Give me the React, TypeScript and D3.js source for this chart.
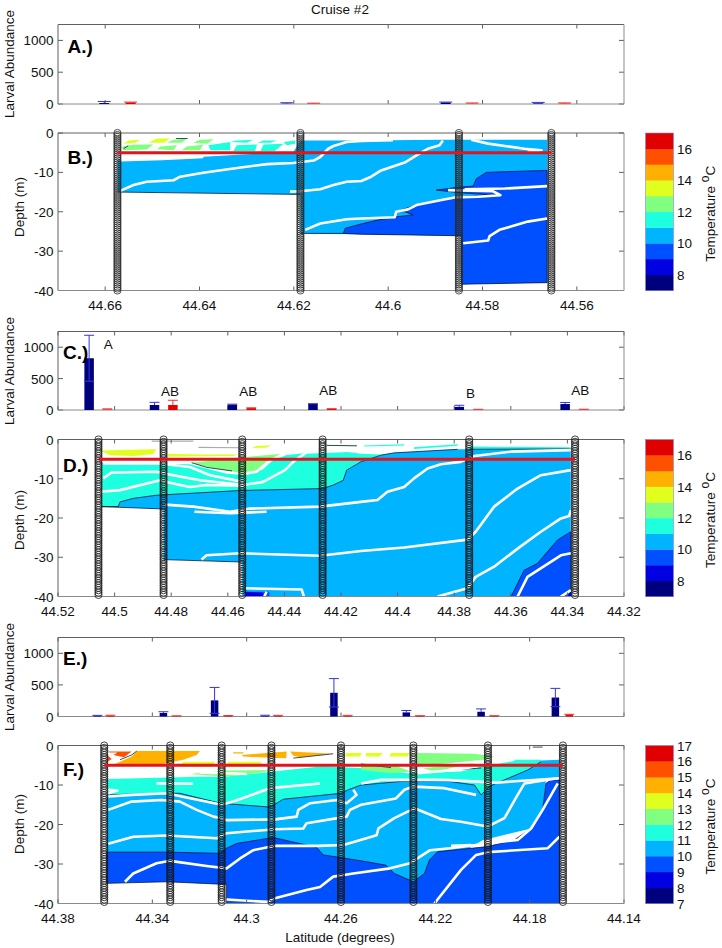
import React from "react";
import * as d3 from "d3";

type P = [number, number];
type Fill = { color: string; pts: P[]; edge?: boolean };

const NAVY = "#00007f", BLUE8 = "#0000e0", BLUE9 = "#0050ff", LIGHT = "#00b4ff", CYAN = "#1effe0",
  GREEN = "#80ff80", YELLOW = "#e0ff1e", ORANGE = "#ffb000", RORANGE = "#ff5000", RED = "#e00000";
const levelColors = [NAVY, BLUE8, BLUE9, LIGHT, CYAN, GREEN, YELLOW, ORANGE, RORANGE, RED];

// ---- abundance bars: [lat, value, errorUp, errorDown, series]
type Bar = [number, number, number, number, 0 | 1];
const barsA: Bar[] = [
  [44.6602, 15, 25, 0, 0], [44.6546, 25, 5, 0, 1], [44.6215, 5, 15, 0, 0], [44.6158, 3, 10, 0, 1],
  [44.5878, 25, 5, 0, 0], [44.5822, 4, 12, 0, 1], [44.5682, 10, 15, 0, 0], [44.5626, 5, 12, 0, 1],
];
const barsC: Bar[] = [
  [44.509, 824, 366, 366, 0], [44.5026, 8, 10, 0, 1], [44.4859, 80, 42, 0, 0], [44.4794, 80, 75, 0, 1],
  [44.4584, 85, 8, 0, 0], [44.4517, 30, 5, 0, 1], [44.4299, 95, 6, 0, 0], [44.4233, 15, 6, 0, 1],
  [44.3782, 50, 25, 0, 0], [44.3715, 5, 6, 0, 1], [44.3408, 95, 25, 0, 0], [44.3342, 6, 6, 0, 1],
];
const barsE: Bar[] = [
  [44.3633, 12, 6, 0, 0], [44.3578, 15, 5, 0, 1], [44.3353, 55, 20, 0, 0], [44.3297, 5, 6, 0, 1],
  [44.3136, 255, 205, 205, 0], [44.3078, 10, 6, 0, 1], [44.2922, 12, 8, 0, 0], [44.2867, 12, 6, 0, 1],
  [44.263, 375, 225, 225, 0], [44.2572, 10, 8, 0, 1], [44.2323, 65, 30, 0, 0], [44.2265, 8, 5, 0, 1],
  [44.2006, 75, 45, 0, 0], [44.195, 8, 5, 0, 1], [44.1691, 300, 145, 145, 0], [44.1632, 30, 5, 0, 1],
];
const lettersC: [string, number, number][] = [
  ["A", 44.5022, 1048], ["AB", 44.4804, 303], ["AB", 44.4528, 303], ["AB", 44.4245, 315], ["B", 44.3742, 277], ["AB", 44.3355, 320],
];

// ---- stations
const stationsB = [44.6574, 44.6186, 44.585, 44.5654];
const stationsD = [44.5057, 44.4827, 44.4549, 44.4265, 44.3747, 44.3373];
const stationsF = [44.3604, 44.3324, 44.3106, 44.2895, 44.26, 44.2293, 44.1977, 44.1659];

// ---- Panel B contours
const fillsB: Fill[] = [
  { color: LIGHT, pts: [[44.6574, -6.8], [44.6392, -6], [44.6201, -4.8], [44.6186, -1.9], [44.6057, -1.9], [44.5884, -1.7], [44.5663, -1.7], [44.5663, -38], [44.5845, -38.4], [44.5845, -26.1], [44.6186, -25.5], [44.6186, -15.6], [44.6574, -15]] },
  { color: BLUE9, edge: true, pts: [[44.6095, -25.5], [44.6091, -24.2], [44.6057, -23.1], [44.6022, -22.1], [44.5983, -21.3], [44.5947, -20.8], [44.5965, -20], [44.5983, -20], [44.5951, -18.7], [44.5887, -17], [44.5852, -16.2], [44.5774, -15.8], [44.5845, -15.2], [44.5898, -14.5], [44.5845, -13.7], [44.582, -13.5], [44.5813, -11.6], [44.5792, -10], [44.5718, -9.7], [44.5663, -9.5], [44.5663, -38], [44.5845, -38.4], [44.5845, -26.1], [44.6057, -25.7]] },
  { color: YELLOW, pts: [[44.6561, -2.7], [44.6551, -1.9], [44.6526, -1.7], [44.6536, -2.5]] },
  { color: YELLOW, pts: [[44.6508, -2.5], [44.649, -1.4], [44.6462, -1.4], [44.6476, -2.5]] },
  { color: GREEN, pts: [[44.6469, -2.5], [44.6455, -1.7], [44.6427, -1.4], [44.6437, -2.5]] },
  { color: GREEN, pts: [[44.6413, -2.5], [44.6399, -1.7], [44.637, -1.6], [44.6384, -2.7]] },
  { color: GREEN, pts: [[44.6561, -4.4], [44.6565, -3.5], [44.654, -3], [44.6498, -2.9], [44.6512, -4.2]] },
  { color: GREEN, pts: [[44.649, -4.1], [44.6483, -3.4], [44.6448, -3.1], [44.6455, -4.4]] },
  { color: GREEN, pts: [[44.6437, -4.4], [44.6427, -3.4], [44.6392, -3], [44.6399, -4.4]] },
  { color: CYAN, pts: [[44.6377, -4.4], [44.6381, -3.1], [44.6335, -2.3], [44.6335, -4.4]] },
  { color: CYAN, pts: [[44.6328, -4.6], [44.6321, -3.1], [44.6278, -2.9], [44.6282, -4.6]] },
  { color: CYAN, pts: [[44.6271, -4.6], [44.6264, -2.9], [44.6222, -2.7], [44.624, -4.6]] },
  { color: CYAN, pts: [[44.6335, -2.3], [44.6321, -1.9], [44.6286, -1.7], [44.63, -2.5]] },
  { color: CYAN, pts: [[44.6278, -2.5], [44.6264, -1.9], [44.6236, -1.9], [44.625, -2.5]] },
  { color: CYAN, pts: [[44.6222, -2.3], [44.6197, -1.9], [44.6197, -2.7], [44.6215, -3.1]] },
];
const whitesB: P[][] = [
  [[44.6568, -6.9], [44.648, -6.6], [44.6392, -6.1]],
  [[44.6568, -14.7], [44.654, -13.2], [44.6512, -12.4], [44.6455, -12], [44.6441, -11.1], [44.6392, -10.1], [44.6328, -9], [44.6257, -7.9], [44.6201, -7.6], [44.6158, -7], [44.6144, -6.1], [44.6127, -4], [44.6116, -3.3], [44.6088, -2.3], [44.6057, -2], [44.599, -1.8]],
  [[44.6208, -14.9], [44.6187, -14.8], [44.6144, -14.3], [44.6116, -13.2], [44.6088, -12.4], [44.6057, -12.2], [44.6036, -11.1], [44.6015, -9.5], [44.5965, -7.5], [44.594, -5.7], [44.5916, -4], [44.5891, -3.1], [44.5884, -1.9]],
  [[44.6176, -24.6], [44.6144, -23], [44.6088, -21.9], [44.6057, -21.7], [44.5986, -21.4], [44.5983, -20], [44.5958, -19.4], [44.594, -18.3], [44.5887, -17], [44.5859, -16.4], [44.581, -16.2], [44.5762, -15.8], [44.5778, -14.8], [44.5873, -14.5]],
  [[44.5838, -14.3], [44.5753, -14.1], [44.5663, -13.5]],
  [[44.5841, -28], [44.5788, -27.3], [44.5785, -26.2], [44.5764, -24.6], [44.5704, -22.5], [44.5663, -21.7]],
  [[44.5824, -1.7], [44.5788, -2.7], [44.5711, -4], [44.5675, -4.4], [44.5704, -4.8]],
];
const blacksB: P[][] = [
  [[44.6574, -15], [44.6186, -15.6]],
  [[44.6186, -25.5], [44.6095, -25.5]],
  [[44.645, -1.4], [44.6425, -1.4]],
  [[44.6561, -4], [44.6551, -3.2]],
];

// ---- Panel D contours
const fillsD: Fill[] = [
  { color: LIGHT, pts: [[44.5046, -17], [44.5046, -15], [44.4981, -14], [44.4852, -13], [44.4557, -12], [44.4265, -11.5], [44.413, -5.7], [44.4059, -4], [44.4012, -3.4], [44.3788, -2.5], [44.3747, -2.5], [44.3388, -2.4], [44.3388, -40], [44.4549, -40], [44.4549, -31.2], [44.4827, -30.6], [44.4827, -17.7], [44.5046, -17.1]] },
  { color: CYAN, pts: [[44.5046, -5.9], [44.4734, -6.3], [44.4604, -8.7], [44.4534, -9.1], [44.4475, -7.6], [44.4428, -4.4], [44.4345, -3.1], [44.4227, -2.7], [44.413, -3.6], [44.4059, -3.8], [44.4012, -3.4], [44.4059, -4], [44.413, -5.7], [44.418, -7.8], [44.4192, -10.4], [44.4227, -11.6], [44.4265, -12.5], [44.4557, -13], [44.4852, -14.2], [44.4934, -15], [44.4981, -15.9], [44.4987, -17.1], [44.5046, -17.1]] },
  { color: CYAN, pts: [[44.3747, -1.8], [44.3388, -2], [44.3388, -2.4], [44.3747, -2.5]] },
  { color: CYAN, pts: [[44.4118, -1.5], [44.3977, -1.2], [44.3977, -1.5], [44.4118, -1.8]] },
  { color: CYAN, pts: [[44.3942, -2], [44.3788, -1.2], [44.3788, -1.6], [44.3942, -2.4]] },
  { color: GREEN, pts: [[44.4728, -5.9], [44.4675, -7.1], [44.4557, -8.5], [44.4536, -9.1], [44.4492, -7.6], [44.4451, -5.2], [44.4415, -3.7], [44.45, -4.2], [44.46, -4.9]] },
  { color: GREEN, pts: [[44.4251, -1.4], [44.4144, -1.5], [44.4144, -1.7], [44.4251, -1.6]] },
  { color: YELLOW, pts: [[44.5052, -2.8], [44.4987, -2.7], [44.4852, -2.5], [44.4864, -3.7], [44.4934, -4.2], [44.5016, -4]] },
  { color: YELLOW, pts: [[44.4811, -3.6], [44.47, -3.8], [44.4563, -3.8], [44.458, -4.2], [44.4811, -4.4]] },
  { color: YELLOW, pts: [[44.4498, -1.6], [44.4445, -1.5], [44.4466, -2.1], [44.4515, -2.2]] },
  { color: BLUE9, edge: true, pts: [[44.3599, -40], [44.357, -35.8], [44.3553, -33.3], [44.3506, -31.6], [44.3435, -25.6], [44.3388, -23.5], [44.3388, -40]] },
  { color: BLUE8, pts: [[44.3399, -40], [44.3388, -38.4], [44.3385, -40]] },
  { color: BLUE9, pts: [[44.4539, -38.8], [44.4453, -38.8], [44.4453, -40], [44.4539, -40]] },
  { color: BLUE8, pts: [[44.4539, -38.8], [44.4478, -39], [44.4471, -40], [44.4539, -40]] },
];
const whitesD: P[][] = [
  [[44.504, -9.9], [44.5011, -8.4], [44.4852, -8.2], [44.4793, -9.1], [44.4698, -10.4], [44.4545, -11.6], [44.4475, -10.8], [44.4398, -7.8], [44.4363, -5.3], [44.4322, -3.3], [44.413, -2.7], [44.4, -2.4]],
  [[44.5052, -13.3], [44.4981, -12.9], [44.484, -10.4], [44.4793, -11.2], [44.4734, -12.1], [44.4675, -11.6], [44.4545, -11.8]],
  [[44.504, -6.1], [44.484, -6.1], [44.4734, -7], [44.4663, -9.1], [44.4545, -10.8]],
  [[44.4539, -8.7], [44.4498, -8.2], [44.4451, -5.3], [44.4392, -3.6], [44.4274, -2.7]],
  [[44.4822, -16.6], [44.4722, -17.1], [44.4592, -18.4], [44.4522, -17.6], [44.4274, -17.1], [44.413, -15.9], [44.4071, -15.4], [44.4036, -13.3], [44.3977, -12.1], [44.3942, -9.9], [44.3894, -7.4], [44.3847, -6.3], [44.3777, -5.7], [44.3729, -4.2], [44.36, -3.1], [44.3388, -2.7]],
  [[44.4718, -18.4], [44.4592, -18.8], [44.4463, -18.4]],
  [[44.4693, -30.6], [44.4675, -29.5], [44.4557, -29], [44.4274, -29.6], [44.413, -28.4], [44.3977, -27.5], [44.3753, -25.5], [44.3724, -23.5], [44.3659, -17.1], [44.3576, -12.5], [44.3494, -9.1], [44.3388, -7.8]],
  [[44.3859, -40], [44.3753, -37.9], [44.3724, -35], [44.3659, -32.4], [44.3576, -27.8], [44.3494, -23.5], [44.3423, -20.1], [44.3394, -19.5], [44.3388, -18]],
  [[44.3576, -40], [44.3541, -35], [44.3423, -29.5], [44.3388, -29]],
  [[44.3423, -40], [44.3388, -38.4]],
  [[44.4539, -37.9], [44.4339, -38.2], [44.4331, -40]],
  [[44.4463, -38.8], [44.4471, -40]],
];
const blacksD: P[][] = [
  [[44.5046, -17.1], [44.4987, -17.1], [44.4981, -15.9], [44.4934, -15], [44.4852, -14.2], [44.4557, -13], [44.4265, -12.5], [44.4227, -11.6], [44.4192, -10.4], [44.418, -7.8], [44.413, -5.7], [44.4059, -4], [44.4012, -3.4], [44.3788, -2.5]],
  [[44.3747, -2.5], [44.3388, -2.4]],
  [[44.5046, -17.1], [44.4827, -17.7]],
  [[44.4827, -30.6], [44.4557, -31.2]],
  [[44.4251, -1.5], [44.4144, -1.6]],
  [[44.4728, -5.9], [44.4675, -7.1], [44.4585, -8]],
];
const greysD: P[][] = [[[44.4869, -0.4], [44.4722, -0.4]], [[44.4704, -2], [44.456, -2.1]]];

// ---- Panel F contours
const fillsF: Fill[] = [
  { color: LIGHT, pts: [[44.3594, -12.5], [44.3283, -11.8], [44.2901, -15], [44.2845, -13], [44.26, -11.5], [44.2515, -9.5], [44.2162, -8.5], [44.2, -9], [44.1752, -3.8], [44.1674, -3.6], [44.1674, -9], [44.1731, -9], [44.1745, -16.3], [44.1794, -21], [44.2, -24], [44.2293, -34.5], [44.2515, -30], [44.2689, -27.5], [44.3113, -27.3], [44.3594, -27.3]] },
  { color: CYAN, pts: [[44.3594, -8.5], [44.3198, -7.9], [44.3099, -7.9], [44.2915, -6.8], [44.2689, -5.3], [44.2515, -5.7], [44.2317, -7], [44.2091, -6.6], [44.195, -4.5], [44.1893, -3.6], [44.1752, -3.6], [44.1752, -4.1], [44.1808, -6.2], [44.1943, -9.6], [44.1971, -10.4], [44.2006, -12.5], [44.2034, -10], [44.2162, -8.9], [44.2345, -9.1], [44.2515, -10], [44.2569, -11.2], [44.26, -12.1], [44.2845, -13.6], [44.2901, -15.6], [44.3113, -14.6], [44.3283, -12.1], [44.3382, -12.1], [44.3587, -12.5]] },
  { color: BLUE9, edge: true, pts: [[44.3594, -27], [44.3339, -27], [44.3113, -27.3], [44.3085, -26], [44.3042, -24.8], [44.2887, -23.3], [44.2703, -25.8], [44.2675, -27.7], [44.2515, -29.2], [44.2409, -30.3], [44.2374, -32.4], [44.2293, -34.5], [44.2246, -32.4], [44.2225, -29], [44.219, -26.9], [44.1978, -25.6], [44.1865, -23.9], [44.1794, -21], [44.1745, -16.3], [44.1731, -9.6], [44.1709, -8.7], [44.1674, -8.7], [44.1674, -40], [44.3085, -40], [44.3085, -35.1], [44.3113, -35.1], [44.3339, -34.5], [44.3594, -34.9]] },
  { color: GREEN, pts: [[44.2275, -1.9], [44.2034, -2.1], [44.195, -2.8], [44.2034, -4.5], [44.2204, -6.6], [44.2275, -5.3]] },
  { color: GREEN, pts: [[44.2515, -4.5], [44.236, -5.3], [44.2303, -6.6], [44.2388, -7], [44.2515, -6.2]] },
  { color: GREEN, pts: [[44.324, -7.2], [44.3085, -7.9], [44.2958, -7], [44.2887, -6.2], [44.3085, -6.3]] },
  { color: ORANGE, pts: [[44.3565, -4.9], [44.3488, -2.8], [44.3466, -1.4], [44.3198, -1.4], [44.3212, -2.4], [44.3269, -3.6], [44.3346, -4.5], [44.3353, -5.1]] },
  { color: RORANGE, pts: [[44.3591, -1.5], [44.3488, -1.5], [44.352, -3], [44.3565, -2.4], [44.3548, -1.8], [44.358, -1.8]] },
  { color: RORANGE, pts: [[44.3591, -2.4], [44.3572, -3.4], [44.3591, -4.2]] },
  { color: ORANGE, pts: [[44.3021, -2.4], [44.283, -1.5], [44.2833, -3.2], [44.2943, -3], [44.3014, -2.8]] },
  { color: ORANGE, pts: [[44.3057, -1.7], [44.3014, -1.7], [44.3014, -2], [44.3057, -2]] },
  { color: ORANGE, pts: [[44.2816, -1.5], [44.2633, -2.1], [44.2774, -3], [44.2802, -2.6]] },
  { color: YELLOW, pts: [[44.2576, -1.9], [44.2512, -1.9], [44.2519, -2.8], [44.2583, -2.8]] },
  { color: YELLOW, pts: [[44.2494, -1.9], [44.2423, -1.9], [44.2437, -2.8], [44.2494, -2.8]] },
  { color: YELLOW, pts: [[44.2388, -1.9], [44.231, -1.9], [44.2317, -2.8], [44.2395, -2.8]] },
  { color: YELLOW, pts: [[44.3269, -4.1], [44.3134, -4.1], [44.3148, -5.3], [44.3283, -5.3]] },
  { color: YELLOW, pts: [[44.3078, -4.1], [44.2936, -4.1], [44.295, -5.3], [44.3092, -5.3]] },
];
const whitesF: P[][] = [
  [[44.3587, -16.3], [44.3488, -14.2], [44.336, -13.8], [44.3283, -14.2], [44.3212, -16.3], [44.3141, -18], [44.3106, -18.4], [44.3085, -18.9], [44.288, -18.7], [44.2788, -18], [44.2781, -16.3], [44.2731, -14.6], [44.2618, -13.8], [44.2576, -14.6], [44.2534, -12.5], [44.2548, -11.2]],
  [[44.3587, -12.9], [44.3488, -12.5], [44.3339, -12.1], [44.3276, -12.9], [44.3106, -15], [44.3057, -14.2], [44.2901, -10.8], [44.2689, -9.6]],
  [[44.3587, -24.9], [44.3481, -23.1], [44.3339, -22.8], [44.3127, -23.5], [44.3085, -22.2], [44.288, -21.2], [44.276, -21], [44.2746, -19.7], [44.2576, -18], [44.2562, -16.3], [44.2515, -15], [44.2367, -13.4], [44.2331, -11.2], [44.2293, -10.4], [44.2162, -10.8], [44.2027, -12.5]],
  [[44.3516, -34.5], [44.3481, -32.4], [44.3382, -29.8], [44.3325, -29.2], [44.317, -30.5], [44.3085, -31.1], [44.3028, -28.6], [44.2972, -26.5], [44.288, -25.4], [44.2696, -25.4], [44.259, -25.2], [44.2449, -22.7], [44.2441, -21], [44.2374, -18.4], [44.2289, -15.9], [44.2176, -18.6], [44.2091, -19.3], [44.1978, -20.5], [44.1907, -18.4], [44.1851, -12.5], [44.1822, -9.6], [44.1681, -8.3]],
  [[44.3085, -39], [44.2915, -39.6], [44.288, -38.7], [44.2746, -36.6], [44.2689, -35.8], [44.2633, -33.2], [44.2548, -32.4], [44.2392, -31.1], [44.2307, -29.8], [44.2222, -26.5], [44.2138, -26], [44.1978, -24.8], [44.1851, -23.9], [44.1794, -21], [44.1745, -16.3], [44.1681, -9.6]],
  [[44.2204, -40], [44.2091, -31.5], [44.2027, -27.7], [44.1978, -27], [44.1723, -26], [44.1674, -23.1]],
  [[44.2515, -9.6], [44.243, -8.7], [44.2162, -8.7], [44.1943, -9.4], [44.1674, -8.3]],
  [[44.2303, -5.7], [44.2091, -4.5], [44.195, -3.6]],
  [[44.2275, -7], [44.212, -6.2], [44.1865, -3.6]],
  [[44.3382, -9.6], [44.3228, -9.7]],
  [[44.3587, -11.2], [44.3548, -11.4], [44.3587, -12.1]],
  [[44.32, -6.8], [44.3, -7.2]],
  [[44.2133, -25.4], [44.2048, -25.2]],
];
const blacksF: P[][] = [
  [[44.1752, -4.1], [44.1808, -6.2], [44.1943, -9.6], [44.1971, -10.4], [44.2006, -12.5], [44.2034, -10], [44.2162, -8.9], [44.2345, -9.1], [44.2515, -10], [44.2569, -11.2], [44.26, -12.1], [44.2845, -13.6], [44.2901, -15.6], [44.3113, -14.6], [44.3283, -12.1], [44.3382, -12.1], [44.3587, -12.5]],
  [[44.3537, -3.6], [44.3488, -2.4], [44.3466, -1.4]],
  [[44.2633, -2.1], [44.2802, -3.2]],
  [[44.2176, -6.4], [44.2006, -5.7]],
  [[44.1787, -0.4], [44.1745, -0.4]],
  [[44.2515, -4.7], [44.2388, -5.6]],
];

const yTicksAbund = [0, 500, 1000];
const yTicksDepth = [0, -10, -20, -30, -40];
const xTicksB = [44.66, 44.64, 44.62, 44.6, 44.58, 44.56];
const xTicksD = [44.52, 44.5, 44.48, 44.46, 44.44, 44.42, 44.4, 44.38, 44.36, 44.34, 44.32];
const xTicksF = [44.38, 44.34, 44.3, 44.26, 44.22, 44.18, 44.14];
const cbLabelsSparse = [8, 10, 12, 14, 16];
const cbLabelsFull = [7, 8, 9, 10, 11, 12, 13, 14, 15, 16, 17];
const cbEdges = d3.range(7, 17);

const FONT = "'Liberation Sans', Arial, Helvetica, sans-serif";
const FS = 13.5;
const AX = "#606060";
const X0 = 58, X1 = 624;

function Frame({ x, y, xTicks, yTicks, top, bottom, showX }: any) {
  return (
    <g>
      {xTicks.map((t: number) => (
        <g key={t}>
          <line x1={x(t)} x2={x(t)} y1={top} y2={top + 4} stroke={AX} />
          <line x1={x(t)} x2={x(t)} y1={bottom} y2={bottom - 4} stroke={AX} />
          {showX && (
            <text x={x(t)} y={bottom + 19} textAnchor="middle" fontSize={FS} fontFamily={FONT} fill="#111">{String(+t.toFixed(2))}</text>
          )}
        </g>
      ))}
      {yTicks.map((t: number) => (
        <g key={t}>
          <line x1={X0} x2={X0 + 5} y1={y(t)} y2={y(t)} stroke={AX} />
          <line x1={X1} x2={X1 - 5} y1={y(t)} y2={y(t)} stroke={AX} />
          <text x={53.5} y={y(t) + 5} textAnchor="end" fontSize={FS} fontFamily={FONT} fill="#111">{t}</text>
        </g>
      ))}
      <path d={`M${X0},${bottom}V${top}H${X1}`} fill="none" stroke={AX} strokeWidth={1} />
      <path d={`M${X0},${bottom}H${X1}V${top}`} fill="none" stroke="#8a8a8a" strokeWidth={1} />
    </g>
  );
}

function BarPanel({ domain, xTicks, top, bottom, bars, barW, capW, tag, tagX, tagY, labelY, letters }: any) {
  const x = d3.scaleLinear().domain(domain).range([X0, X1]);
  const y = d3.scaleLinear().domain([0, 1250]).range([bottom, top]);
  return (
    <g>
      <Frame x={x} y={y} xTicks={xTicks} yTicks={yTicksAbund} top={top} bottom={bottom} />
      {bars.map((b: Bar, i: number) => {
        const [lat, v, up, down, s] = b;
        const c = s === 0 ? NAVY : "#e60000";
        const ec = s === 0 ? "#3535d8" : "#f03030";
        return (
          <g key={i}>
            <rect x={x(lat) - barW / 2} y={y(v)} width={barW} height={y(0) - y(v)} fill={c} />
            <line x1={x(lat)} x2={x(lat)} y1={y(v + up)} y2={y(v - down)} stroke={ec} />
            <line x1={x(lat) - capW / 2} x2={x(lat) + capW / 2} y1={y(v + up)} y2={y(v + up)} stroke={ec} />
            {down > 0 && <line x1={x(lat) - capW / 2} x2={x(lat) + capW / 2} y1={y(v - down)} y2={y(v - down)} stroke={ec} />}
          </g>
        );
      })}
      {(letters || []).map((l: any, i: number) => (
        <text key={i} x={x(l[1])} y={y(l[2]) + 5} textAnchor="middle" fontSize={FS} fontFamily={FONT} fill="#111">{l[0]}</text>
      ))}
      <text x={tagX} y={tagY} fontSize={19} fontWeight="bold" fontFamily={FONT} fill="#000">{tag}</text>
      <text transform={`translate(14,${labelY}) rotate(-90)`} textAnchor="middle" fontSize={FS} fontFamily={FONT} fill="#111">Larval Abundance</text>
    </g>
  );
}

function ContourPanel({ id, domain, xTicks, top, bottom, fills, whites, blacks, greys, stations, tag, tagX, tagY, labelY, step, ring, cbLabels }: any) {
  const x = d3.scaleLinear().domain(domain).range([X0, X1]);
  const y = d3.scaleLinear().domain([-40, 0]).range([bottom, top]);
  const line = d3.line<P>().x((d) => x(d[0])).y((d) => y(d[1]));
  const cb = d3.scaleLinear().domain([7, 17]).range([bottom, top]);
  const samples = d3.range(0, -40.01, -step);
  return (
    <g>
      <clipPath id={id}><rect x={X0} y={top} width={X1 - X0} height={bottom - top} /></clipPath>
      <g clipPath={`url(#${id})`}>
        {fills.map((f: Fill, i: number) => (
          <path key={i} d={line(f.pts)! + "Z"} fill={f.color} stroke={f.edge ? "#06103a" : "none"} strokeWidth={f.edge ? 0.75 : 0} />
        ))}
        {blacks.map((b: P[], i: number) => (
          <path key={i} d={line(b)!} fill="none" stroke="#06103a" strokeWidth={0.75} />
        ))}
        {whites.map((b: P[], i: number) => (
          <path key={i} d={line(b)!} fill="none" stroke="#fff" strokeWidth={2.6} strokeLinejoin="round" />
        ))}
        {(greys || []).map((b: P[], i: number) => (
          <path key={i} d={line(b)!} fill="none" stroke="#aaa" strokeWidth={1.2} />
        ))}
      </g>
      <Frame x={x} y={y} xTicks={xTicks} yTicks={yTicksDepth} top={top} bottom={bottom} showX />
      {stations.map((s: number) => (
        <g key={s}>
          {samples.map((d: number) => (
            <circle key={d} cx={x(s)} cy={y(d)} r={3.6} fill="none" stroke={ring} strokeWidth={0.8} />
          ))}
        </g>
      ))}
      <line x1={x(stations[0])} x2={x(stations[stations.length - 1])} y1={y(-5)} y2={y(-5)} stroke="#e2141c" strokeWidth={3} />
      <text x={tagX} y={tagY} fontSize={19} fontWeight="bold" fontFamily={FONT} fill="#000">{tag}</text>
      <text transform={`translate(24,${labelY}) rotate(-90)`} textAnchor="middle" fontSize={FS} fontFamily={FONT} fill="#111">Depth (m)</text>
      {cbEdges.map((e: number, i: number) => (
        <rect key={e} x={645.5} y={cb(e + 1)} width={28} height={cb(e) - cb(e + 1) + 0.3} fill={levelColors[i]} />
      ))}
      <rect x={645.5} y={top} width={28} height={bottom - top} fill="none" stroke="#8a8ac0" strokeWidth={0.6} />
      {cbLabels.map((t: number) => (
        <text key={t} x={677} y={cb(t) + 5} fontSize={FS} fontFamily={FONT} fill="#111">{t}</text>
      ))}
      <text transform={`translate(715,${(top + bottom) / 2 + 2}) rotate(-90)`} textAnchor="middle" fontSize={FS} fontFamily={FONT} fill="#111">
        Temperature <tspan dy={-6} fontSize={12}>o</tspan><tspan dy={6}>C</tspan>
      </text>
    </g>
  );
}

export default function App() {
  return (
    <svg width={722} height={948} style={{ position: "absolute", left: 0, top: 0, background: "#fff" }}>
      <text x={340} y={13.5} textAnchor="middle" fontSize={FS} fontFamily={FONT} fill="#111">Cruise #2</text>

      <BarPanel domain={[44.67, 44.55]} xTicks={xTicksB} top={24.5} bottom={104} bars={barsA} barW={10} capW={13} tag="A.)" tagX={67.5} tagY={53} labelY={64} />
      <ContourPanel id="cB" domain={[44.67, 44.55]} xTicks={xTicksB} top={133} bottom={290.5} fills={fillsB} whites={whitesB} blacks={blacksB} stations={stationsB} tag="B.)" tagX={67.5} tagY={164} labelY={207} step={0.5} ring="#2a2a2a" cbLabels={cbLabelsSparse} />

      <BarPanel domain={[44.52, 44.32]} xTicks={xTicksD} top={331.5} bottom={410} bars={barsC} barW={9.5} capW={10} tag="C.)" tagX={63} tagY={359} labelY={371} letters={lettersC} />
      <ContourPanel id="cD" domain={[44.52, 44.32]} xTicks={xTicksD} top={439.5} bottom={596.5} fills={fillsD} whites={whitesD} blacks={blacksD} greys={greysD} stations={stationsD} tag="D.)" tagX={63} tagY={472} labelY={520} step={0.6} ring="#151515" cbLabels={cbLabelsSparse} />

      <BarPanel domain={[44.38, 44.14]} xTicks={xTicksF} top={637.5} bottom={716.5} bars={barsE} barW={7.5} capW={10} tag="E.)" tagX={63} tagY={665} labelY={677} />
      <ContourPanel id="cF" domain={[44.38, 44.14]} xTicks={xTicksF} top={745.5} bottom={903.5} fills={fillsF} whites={whitesF} blacks={blacksF} stations={stationsF} tag="F.)" tagX={63} tagY={776} labelY={824} step={0.6} ring="#151515" cbLabels={cbLabelsFull} />

      <text x={340} y={942} textAnchor="middle" fontSize={FS} fontFamily={FONT} fill="#111">Latitude (degrees)</text>
    </svg>
  );
}
